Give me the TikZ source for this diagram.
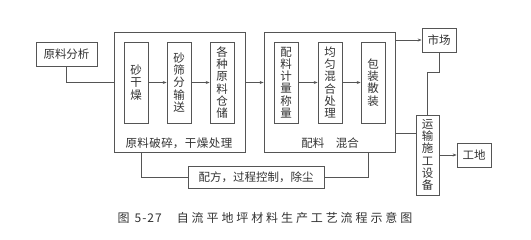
\documentclass[tikz,border=0pt]{standalone}
\usepackage{fontspec}
\setmainfont{Noto Sans CJK SC}
\usetikzlibrary{arrows.meta,calc}
\definecolor{ln}{HTML}{555555}
\definecolor{tx}{HTML}{333333}
\newcommand\capsp{\kern2.9pt}
\tikzset{
  box/.style={draw=ln, line width=0.7pt, inner sep=0pt, text=tx, align=center,
    font=\fontsize{11.5}{12.2}\selectfont},
  outer/.style={draw=ln, line width=0.8pt, inner sep=0pt},
  lbl/.style={text=tx, inner sep=0pt, font=\fontsize{11.5}{12}\selectfont},
  conn/.style={draw=ln, line width=0.7pt},
  arr/.style={conn, -{Stealth[length=4pt,width=3pt]}}
}
\begin{document}
\begin{tikzpicture}[x=1pt,y=-1pt]
\useasboundingbox[fill=white] (0,0) rectangle (531,240);
% outer boxes
\node[outer, minimum width=131pt, minimum height=120pt] (o1) at (179.5,92) {};
\node[outer, minimum width=131pt, minimum height=120pt] (o2) at (329.5,92) {};
% inner boxes
\node[box, minimum width=24pt, minimum height=81pt] (s1) at (136,82.5) {砂\\干\\燥};
\node[box, minimum width=24pt, minimum height=81pt] (s2) at (179,82.5) {砂\\筛\\分\\输\\送};
\node[box, minimum width=24pt, minimum height=81pt] (s3) at (222,82.5) {各\\种\\原\\料\\仓\\储};
\node[box, minimum width=24pt, minimum height=81pt] (p1) at (286,82.5) {配\\料\\计\\量\\称\\量};
\node[box, minimum width=24pt, minimum height=81pt] (p2) at (330,82.5) {均\\匀\\混\\合\\处\\理};
\node[box, minimum width=24pt, minimum height=81pt] (p3) at (373,82.5) {包\\装\\散\\装};
% labels
\node[lbl] (l1) at (179,143) {原\kern0.5pt 料\kern0.5pt 破\kern0.5pt 碎，\kern0.5pt 干\kern0.5pt 燥\kern0.5pt 处\kern0.5pt 理};
\node[lbl] (l2) at (330,143) {配料\hspace{1em}混合};
% other boxes
\node[box, minimum width=61pt, minimum height=24pt] (ana) at (66.5,54) {原料分析};
\node[box, minimum width=136pt, minimum height=22pt] (pf) at (256,177) {配方，过程控制，除尘};
\node[box, minimum width=34pt, minimum height=24pt] (mk) at (439,40) {市场};
\node[box, minimum width=23pt, minimum height=80pt] (ys) at (427.5,155) {运\\输\\施\\工\\设\\备};
\node[box, minimum width=34pt, minimum height=24pt] (gd) at (474,155) {工地};
% caption
\node[text=tx, inner sep=0pt, font=\fontsize{12}{13}\selectfont] (cap) at (265,218) {图\kern5pt 5\kern1pt -\kern1pt 2\kern1pt 7\kern15pt 自\capsp 流\capsp 平\capsp 地\capsp 坪\capsp 材\capsp 料\capsp 生\capsp 产\capsp 工\capsp 艺\capsp 流\capsp 程\capsp 示\capsp 意\capsp 图};
% connectors
\draw[conn] ($(ana.south)+(-0.5,0)$) |- (o1.west |- s1.west);
\draw[arr] (s1.east) -- (s2.west);
\draw[arr] (s2.east) -- (s3.west);
\draw[arr] (o1.east |- s3.east) -- (o2.west |- s3.east);
\draw[arr] (p1.east) -- (p2.west);
\draw[arr] (p2.east) -- (p3.west);
\draw[conn] ($(o1.south west)!0.214!(o1.south east)$) |- (pf.west);
\draw[conn] (pf.east) -| ($(o2.south west)!0.794!(o2.south east)$);
\draw[arr] (o2.east |- mk.west) -- (mk.west);
\coordinate (mkb) at ($(mk.south)+(0,20)$);
\draw[conn] (mk.south) -- (mkb) -| (ys.north);
\coordinate (ysl) at ($(ys.north west)+(0,19)$);
\draw[conn] (o2.east |- ysl) -- (ysl);
\draw[arr] (ys.east) -- (gd.west);
\end{tikzpicture}
\end{document}
